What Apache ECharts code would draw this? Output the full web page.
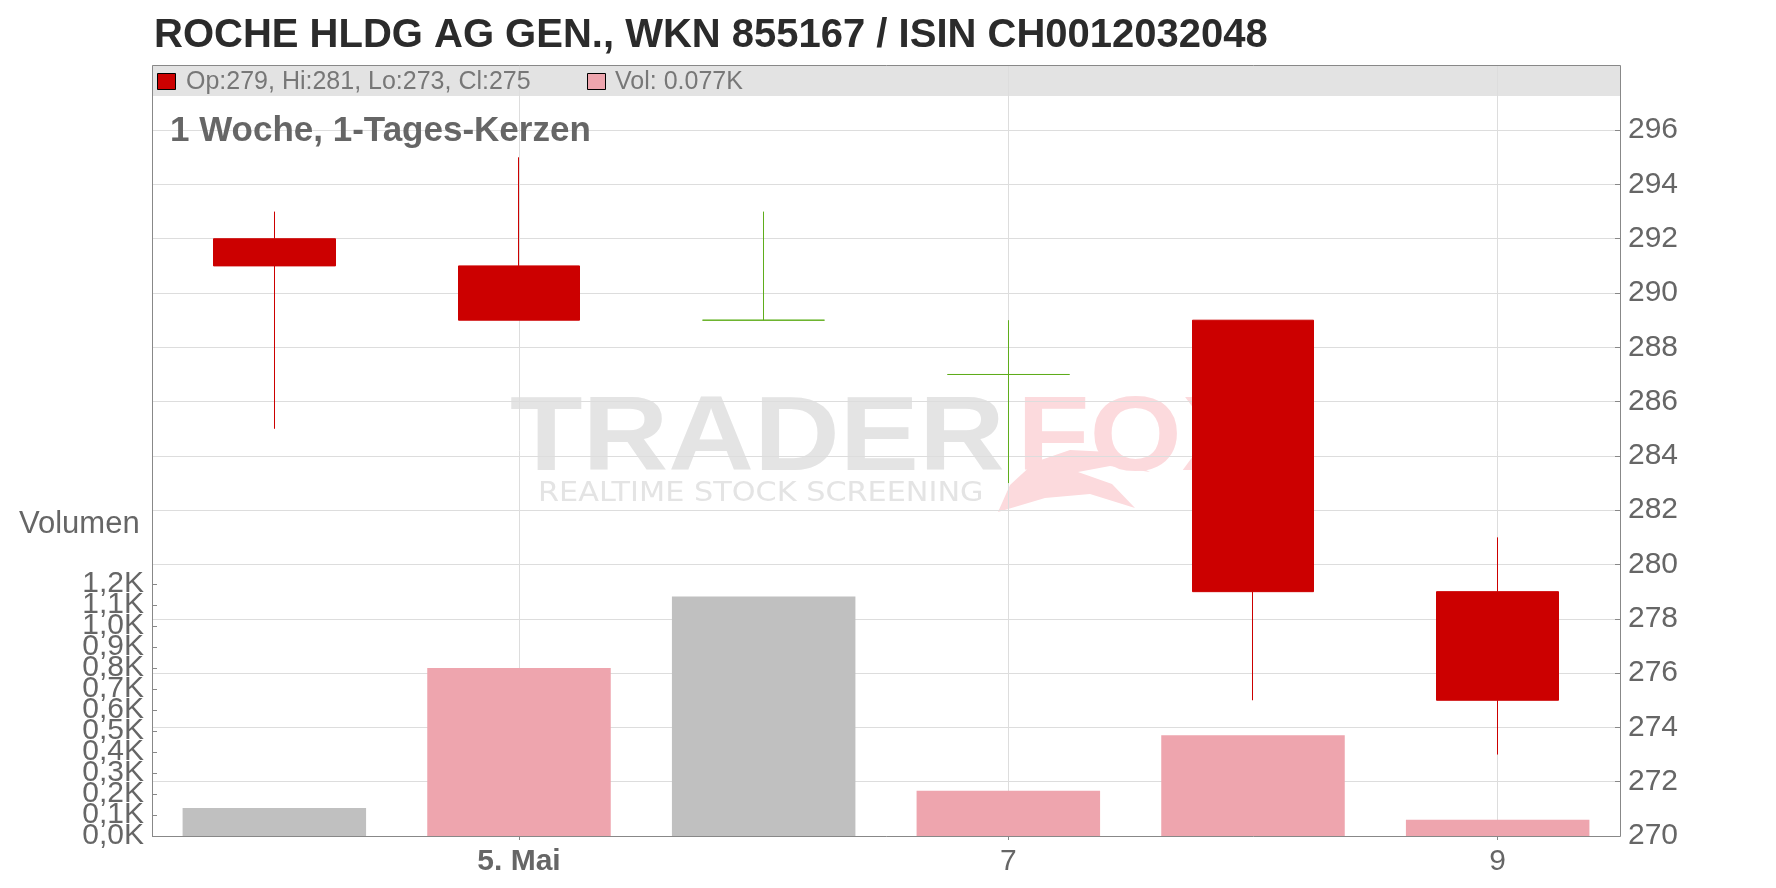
<!DOCTYPE html>
<html>
<head>
<meta charset="utf-8">
<script src="https://cdn.jsdelivr.net/npm/echarts@6/dist/echarts.min.js"></script>
<style>
html,body{margin:0;padding:0;background:#fff;}
#chart{width:1776px;height:888px;}
</style>
</head>
<body>
<div id="chart"></div>
<script>
// ---- data ----
const categories = ['4', '5. Mai', '6', '7', '8', '9'];
const shownLabels = ['5. Mai', '7', '9'];
const openP  = [292, 291, 289, 287, 289, 279];
const highP  = [293, 295, 293, 289, 289, 281];
const lowP   = [285, 289, 289, 283, 275, 273];
const closeP = [291, 289, 289, 287, 279, 275];
const volumeK = [0.133, 0.80, 1.14, 0.216, 0.48, 0.077];
const priceMin = 270, priceMax = 298.4, priceStep = 2, priceLabelMax = 296;
const volMin = 0, volMax = 1.2, volStep = 0.1;
const bandLow = 297.26;

// ---- style ----
const RED = '#cc0000', GREEN = '#5fad1b', PINK = '#eea5ae', GREY = '#c0c0c0';
const AXIS = '#888888', GRIDC = '#dddddd', TXT = '#666666';
const FONT = '"Liberation Sans", Arial, sans-serif';
const W = 1776, H = 888;
const GL = 152, GR = 156, GT = 65, GB = 52, VOLTOP = 584;
// pixel offset of one volume step (so odd-step labels can live on a shifted twin axis)
const volPxPerUnit = (H - GB - VOLTOP) / (volMax - volMin);
const stepPx = volStep * volPxPerUnit;

const candleData = categories.map((c, i) => {
  const v = [openP[i], closeP[i], lowP[i], highP[i]];
  if (openP[i] === closeP[i]) {
    return { value: v, itemStyle: { color: GREEN, color0: GREEN, borderColor: GREEN, borderColor0: GREEN } };
  }
  return v;
});
const volData = volumeK.map((v, i) => ({
  value: v,
  itemStyle: { color: (i > 0 && closeP[i] < closeP[i - 1]) ? PINK : GREY }
}));

const last = categories.length - 1;
const legendText1 = 'Op:' + openP[last] + ', Hi:' + highP[last] + ', Lo:' + lowP[last] + ', Cl:' + closeP[last];
const legendText2 = 'Vol: ' + volumeK[last].toFixed(3) + 'K';

const volAxisCommon = {
  type: 'value', position: 'left', interval: 2 * volStep,
  axisLine: { show: false },
  axisTick: { show: true, inside: true, length: 5, lineStyle: { color: AXIS } },
  axisLabel: {
    margin: 8, fontFamily: FONT, fontSize: 30, color: TXT, hideOverlap: false,
    showMinLabel: true, showMaxLabel: true,
    formatter: v => v.toFixed(1).replace('.', ',') + 'K'
  },
  splitLine: { show: false }
};

const chart = echarts.init(document.getElementById('chart'), null, { renderer: 'canvas', width: W, height: H });

const option = {
  animation: false,
  backgroundColor: '#ffffff',
  title: {
    text: 'ROCHE HLDG AG GEN., WKN 855167 / ISIN CH0012032048',
    left: GL - 3, top: 11,
    textStyle: { fontFamily: FONT, fontSize: 40, fontWeight: 'bold', color: '#2b2b2b' }
  },
  grid: [
    { left: GL, right: GR, top: GT, bottom: GB, containLabel: false },
    { left: GL, right: GR, top: VOLTOP, bottom: GB, containLabel: false },
    { left: GL, right: GR, top: VOLTOP + stepPx, bottom: GB + stepPx, containLabel: false }
  ],
  xAxis: [
    {
      type: 'category', gridIndex: 0, data: categories, boundaryGap: true,
      axisLine: { show: false },
      axisTick: {
        show: true, alignWithLabel: true, length: 4, lineStyle: { color: AXIS },
        interval: (i, v) => shownLabels.indexOf(v) >= 0
      },
      axisLabel: {
        interval: (i, v) => shownLabels.indexOf(v) >= 0,
        margin: 11, fontFamily: FONT, fontSize: 30, color: TXT,
        formatter: v => v.indexOf('Mai') >= 0 ? '{b|' + v + '}' : v,
        rich: { b: { fontFamily: FONT, fontSize: 30, fontWeight: 'bold', color: TXT } }
      },
      splitLine: { show: false }
    },
    { type: 'category', gridIndex: 1, data: categories, boundaryGap: true, show: false },
    { type: 'category', gridIndex: 2, data: categories, boundaryGap: true, show: false }
  ],
  yAxis: [
    {
      type: 'value', gridIndex: 0, position: 'right', min: priceMin, max: priceMax, interval: priceStep,
      axisLine: { show: false },
      axisTick: { show: true, inside: true, length: 5, lineStyle: { color: AXIS } },
      axisLabel: {
        margin: 8, fontFamily: FONT, fontSize: 30, color: TXT,
        formatter: v => (v > priceLabelMax ? '' : String(v)),
        showMinLabel: true, showMaxLabel: false
      },
      splitLine: { show: true, lineStyle: { color: GRIDC, width: 1 } }
    },
    Object.assign({}, volAxisCommon, { gridIndex: 1, min: volMin, max: volMax }),
    Object.assign({}, volAxisCommon, { gridIndex: 2, min: volMin + volStep, max: volMax - volStep })
  ],
  series: [
    {
      type: 'bar', xAxisIndex: 1, yAxisIndex: 1, data: volData, barWidth: '75%', z: 2, silent: true
    },
    {
      type: 'candlestick', xAxisIndex: 0, yAxisIndex: 0, data: candleData, barWidth: '50%', z: 3, silent: true,
      itemStyle: { color: GREEN, color0: RED, borderColor: GREEN, borderColor0: RED, borderWidth: 1 },
      markArea: {
        silent: true, z: 1,
        itemStyle: { color: '#e3e3e3' },
        data: [[{ yAxis: bandLow }, { yAxis: priceMax }]]
      },
      markLine: {
        silent: true, z: 1.5, symbol: 'none',
        label: { show: false },
        lineStyle: { color: GRIDC, type: 'solid', width: 1 },
        data: shownLabels.map(l => ({ xAxis: l }))
      }
    }
  ],
  graphic: [
    // watermark
    { type: 'text', z: -1, x: 510, y: 388, scaleX: 1.12,
      style: { text: 'TRADER', fontFamily: FONT, fontSize: 106, fontWeight: 'bold', fill: '#e4e4e4', textVerticalAlign: 'top' } },
    { type: 'text', z: -1, x: 1017, y: 388, scaleX: 1.12,
      style: { text: 'FOX', fontFamily: FONT, fontSize: 106, fontWeight: 'bold', fill: '#fcdadd', textVerticalAlign: 'top' } },
    { type: 'text', z: -1, x: 538, y: 494, scaleX: 1.165,
      style: { text: 'REALTIME STOCK SCREENING', fontFamily: '"DejaVu Sans", sans-serif', fontSize: 26, fill: '#e4e4e4', textVerticalAlign: 'middle' } },
    { type: 'polygon', z: -1,
      shape: { points: [[998, 512], [1010, 485], [1035, 462], [1070, 450], [1110, 452], [1150, 472], [1110, 466], [1078, 472], [1112, 484], [1135, 508], [1090, 494], [1045, 498]] },
      style: { fill: '#fcdadd' } },
    // plot border
    { type: 'rect', z: 10, silent: true,
      shape: { x: GL + 0.5, y: GT + 0.5, width: W - GL - GR, height: H - GT - GB },
      style: { fill: null, stroke: AXIS, lineWidth: 1 } },
    // legend
    { type: 'rect', z: 10, shape: { x: 157.5, y: 73.5, width: 18, height: 16 }, style: { fill: RED, stroke: '#000', lineWidth: 1 } },
    { type: 'text', z: 10, x: 186, y: 82, style: { text: legendText1, fontFamily: FONT, fontSize: 25, fill: '#777777', textVerticalAlign: 'middle' } },
    { type: 'rect', z: 10, shape: { x: 587.5, y: 73.5, width: 18, height: 16 }, style: { fill: PINK, stroke: '#000', lineWidth: 1 } },
    { type: 'text', z: 10, x: 615, y: 82, style: { text: legendText2, fontFamily: FONT, fontSize: 25, fill: '#777777', textVerticalAlign: 'middle' } },
    // subtitle
    { type: 'text', z: 10, x: 170, y: 131, style: { text: '1 Woche, 1-Tages-Kerzen', fontFamily: FONT, fontSize: 35, fontWeight: 'bold', fill: TXT, textVerticalAlign: 'middle' } },
    // volume title
    { type: 'text', z: 10, x: 19, y: 524, style: { text: 'Volumen', fontFamily: FONT, fontSize: 31, fill: TXT, textVerticalAlign: 'middle' } }
  ]
};
chart.setOption(option);
</script>
</body>
</html>
